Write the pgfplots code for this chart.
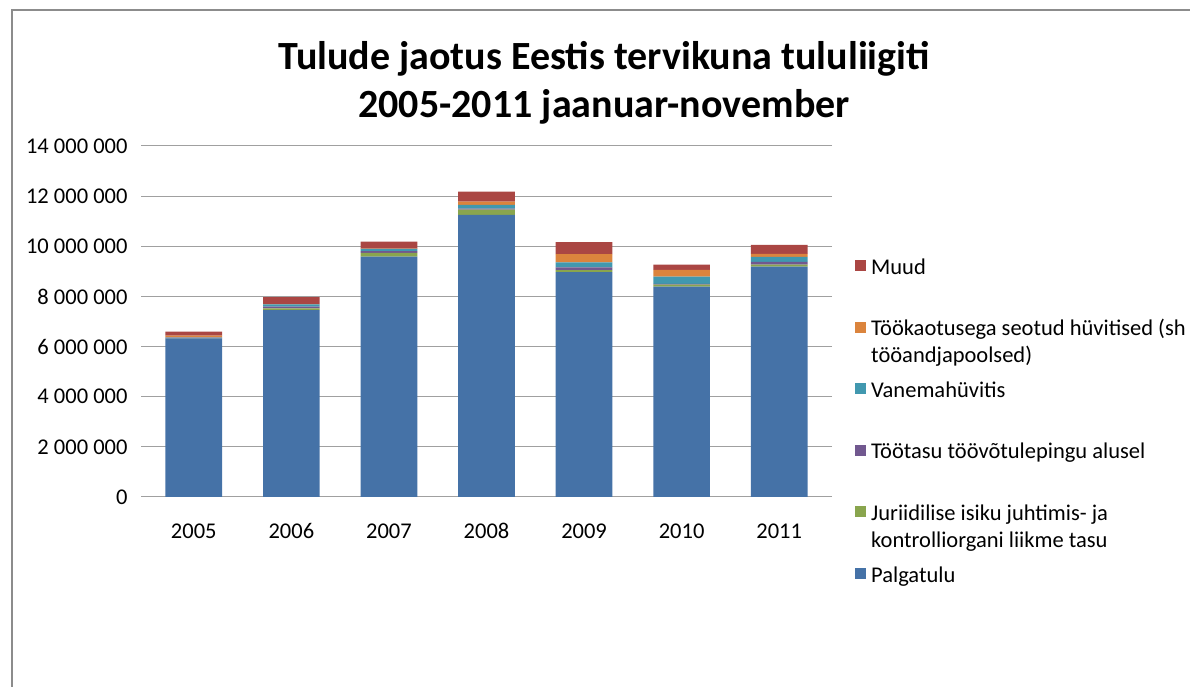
\documentclass[border=0pt]{standalone}
\usepackage{pgfplots}
\pgfplotsset{compat=1.18}
\usepackage{fontspec}
\setmainfont{Carlito}
\definecolor{cBlue}{HTML}{4572A7}
\definecolor{cGreen}{HTML}{89A54E}
\definecolor{cPurple}{HTML}{71588F}
\definecolor{cCyan}{HTML}{4198AF}
\definecolor{cOrange}{HTML}{DB843D}
\definecolor{cRed}{HTML}{AA4643}
\definecolor{gridgray}{HTML}{A0A0A0}
\definecolor{framegray}{HTML}{8C8C8C}
\newcommand{\LE}[1]{\parbox[t]{330pt}{\raggedright\fontsize{22.5}{26.5}\selectfont #1}}
\begin{document}
\begin{tikzpicture}[x=1pt,y=1pt]
\path[use as bounding box] (0,0) rectangle (1190,687);
\draw[framegray, line width=1.2pt] (12,0) -- (12,677) -- (1190,677);
\node[anchor=base, font=\fontsize{40}{46}\selectfont\bfseries] at (604,617) {Tulude jaotus Eestis tervikuna tululiigiti};
\node[anchor=base, font=\fontsize{40}{46}\selectfont\bfseries] at (604,569) {2005-2011 jaanuar-november};
\begin{axis}[
  at={(145pt,190pt)}, anchor=south west,
  scale only axis, width=683pt, height=351pt,
  xmin=-0.5, xmax=6.5, ymin=0, ymax=14000000,
  ybar stacked, bar width=56.7pt,
  xtick={0,1,2,3,4,5,6},
  xticklabels={2005,2006,2007,2008,2009,2010,2011},
  ytick={0,2000000,4000000,6000000,8000000,10000000,12000000,14000000},
  scaled y ticks=false,
  ymajorgrids, grid style={draw=gridgray, line width=1pt},
  axis line style={draw=none},
  xtick style={draw=none},
  ytick style={draw=gridgray, line width=1pt},
  tick align=outside, major tick length=4pt,
  tick label style={font=\fontsize{22.5}{26}\selectfont},
  yticklabel style={xshift=-10pt},
  xticklabel style={text height=15pt, text depth=0pt, yshift=-19pt},
  /pgf/number format/.cd, assume math mode=true, fixed, 1000 sep={\ },
  /pgfplots/.cd,
  legend image code/.code={\fill[#1] (0pt,15pt) rectangle (11pt,26pt);},
  reverse legend,
  legend cell align=left,
  legend style={at={(axis description cs:1.0395,0.6895)}, anchor=north west,
    draw=none, fill=none, inner sep=0pt, row sep=0pt, column sep=5pt,
    nodes={inner sep=0pt, text height=19pt, text depth=42.6pt}},
]
\addplot[fill=cBlue, draw=none] coordinates {(0,6330000) (1,7450000) (2,9590000) (3,11250000) (4,8970000) (5,8390000) (6,9190000)};
\addlegendentry{\LE{Palgatulu}}
\addplot[fill=cGreen, draw=none] coordinates {(0,10000) (1,70000) (2,150000) (3,210000) (4,80000) (5,80000) (6,80000)};
\addlegendentry{\LE{Juriidilise isiku juhtimis- ja\newline kontrolliorgani liikme tasu}}
\addplot[fill=cPurple, draw=none] coordinates {(0,20000) (1,70000) (2,70000) (3,40000) (4,110000) (5,30000) (6,110000)};
\addlegendentry{\LE{Töötasu töövõtulepingu alusel}}
\addplot[fill=cCyan, draw=none] coordinates {(0,10000) (1,90000) (2,90000) (3,150000) (4,200000) (5,290000) (6,200000)};
\addlegendentry{\LE{Vanemahüvitis}}
\addplot[fill=cOrange, draw=none] coordinates {(0,70000) (1,10000) (2,10000) (3,130000) (4,330000) (5,270000) (6,120000)};
\addlegendentry{\LE{Töökaotusega seotud hüvitised (sh\newline tööandjapoolsed)}}
\addplot[fill=cRed, draw=none] coordinates {(0,160000) (1,280000) (2,280000) (3,400000) (4,480000) (5,210000) (6,360000)};
\addlegendentry{\LE{Muud}}
\end{axis}
\end{tikzpicture}
\end{document}
